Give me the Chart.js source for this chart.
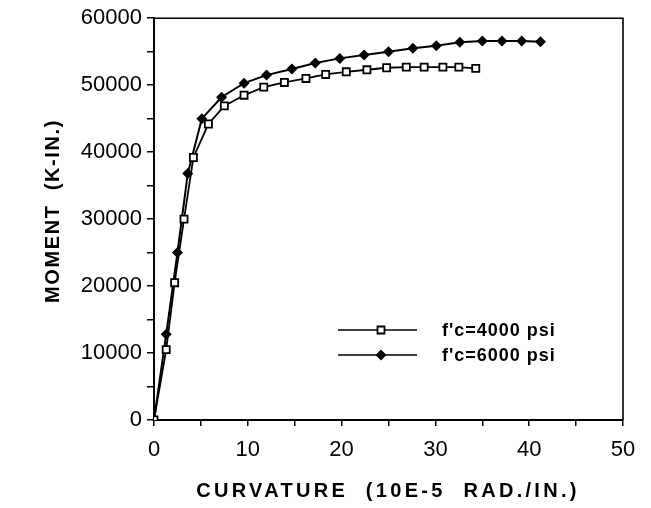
<!DOCTYPE html>
<html>
<head>
<meta charset="utf-8">
<script src="https://cdn.jsdelivr.net/npm/chart.js@4/dist/chart.umd.min.js"></script>
<style>
  html, body { margin: 0; padding: 0; background: #fff; }
  #wrap { width: 651px; height: 508px; }
</style>
</head>
<body>
<div id="wrap"><canvas id="momentChart" width="651" height="508"></canvas></div>
<script>
// curvature in 10E-5 rad/in, moment in k-in
const curv4000 = [0, 1.3, 2.2, 3.2, 4.2, 5.8, 7.5, 9.6, 11.7, 13.9, 16.2, 18.3, 20.5, 22.7, 24.8, 26.9, 28.8, 30.8, 32.5, 34.3];
const moment4000 = [0, 10500, 20500, 30000, 39200, 44200, 46900, 48500, 49700, 50400, 51000, 51600, 52000, 52300, 52600, 52700, 52700, 52700, 52700, 52500];

const curv6000 = [0, 1.3, 2.5, 3.6, 5.1, 7.2, 9.6, 12.0, 14.7, 17.2, 19.8, 22.4, 25.0, 27.6, 30.1, 32.6, 35.0, 37.1, 39.2, 41.2];
const moment6000 = [0, 12800, 25000, 36800, 45000, 48200, 50300, 51500, 52400, 53300, 54000, 54500, 55000, 55500, 55900, 56400, 56600, 56600, 56600, 56500];

const seriesLabels = ["f'c=4000 psi", "f'c=6000 psi"];
const xTitle = 'CURVATURE  (10E-5  RAD./IN.)';
const yTitle = 'MOMENT  (K-IN.)';

const toPoints = (xs, ys) => xs.map((x, i) => ({ x: x, y: ys[i] }));

const tickFont = { family: "'Liberation Sans', Arial, sans-serif", size: 22 };

// frame, axis titles and the line+marker legend
const extras = {
  id: 'extras',
  afterDraw(chart) {
    const c = chart.ctx;
    const a = chart.chartArea;
    c.save();
    c.strokeStyle = '#000';
    c.lineWidth = 1.6;
    c.beginPath();
    c.moveTo(a.left, a.top);
    c.lineTo(a.right, a.top);
    c.lineTo(a.right, a.bottom);
    c.stroke();

    c.fillStyle = '#000';
    c.font = "bold 20px 'Liberation Sans', Arial, sans-serif";
    c.letterSpacing = '3.3px';
    c.textAlign = 'center';
    c.textBaseline = 'middle';
    c.fillText(xTitle, 388, 491);
    c.translate(53, 211);
    c.rotate(-Math.PI / 2);
    c.letterSpacing = '1.6px';
    c.fillText(yTitle, 0, 0);
    c.restore();

    // legend
    c.save();
    const rows = [330, 355];
    rows.forEach((ly, i) => {
      c.strokeStyle = '#000';
      c.lineWidth = 1.6;
      c.beginPath();
      c.moveTo(338, ly);
      c.lineTo(417, ly);
      c.stroke();
      c.beginPath();
      if (i === 0) {
        c.fillStyle = '#fff';
        c.rect(377.5, ly - 3.5, 7, 7);
        c.fill();
        c.lineWidth = 1.8;
        c.stroke();
      } else {
        c.fillStyle = '#000';
        c.moveTo(381, ly - 5.5);
        c.lineTo(386.5, ly);
        c.lineTo(381, ly + 5.5);
        c.lineTo(375.5, ly);
        c.closePath();
        c.fill();
      }
      c.fillStyle = '#000';
      c.font = "bold 18px 'Liberation Sans', Arial, sans-serif";
      c.letterSpacing = '1px';
      c.textAlign = 'left';
      c.textBaseline = 'middle';
      c.fillText(seriesLabels[i], 442, ly + 1);
    });
    c.restore();
  }
};

new Chart(document.getElementById('momentChart'), {
  type: 'line',
  data: {
    datasets: [{
      label: seriesLabels[0],
      data: toPoints(curv4000, moment4000),
      borderColor: '#000',
      borderWidth: 1.8,
      pointStyle: 'rect',
      pointRadius: 5,
      pointBorderWidth: 1.8,
      pointBackgroundColor: '#fff',
      pointBorderColor: '#000',
      tension: 0
    }, {
      label: seriesLabels[1],
      data: toPoints(curv6000, moment6000),
      borderColor: '#000',
      borderWidth: 2,
      pointStyle: 'rectRot',
      pointRadius: 5.5,
      pointBorderWidth: 0,
      pointBackgroundColor: '#000',
      pointBorderColor: '#000',
      tension: 0
    }]
  },
  options: {
    responsive: false,
    animation: false,
    layout: { padding: { top: 15, right: 28, left: 0, bottom: 0 } },
    plugins: {
      legend: { display: false },
      tooltip: { enabled: false }
    },
    scales: {
      x: {
        type: 'linear',
        min: 0,
        max: 50,
        afterFit: s => { s.height = 88; },
        border: { display: true, color: '#000', width: 2 },
        grid: { drawOnChartArea: false, drawTicks: true, tickLength: 6, color: '#000', lineWidth: 1.5 },
        ticks: {
          stepSize: 5,
          padding: 11,
          color: '#000',
          font: tickFont,
          maxRotation: 0,
          autoSkip: false,
          callback: v => (v % 10 === 0 ? String(v) : '')
        }
      },
      y: {
        type: 'linear',
        min: 0,
        max: 60000,
        afterFit: s => { s.width = 154; },
        border: { display: true, color: '#000', width: 2 },
        grid: { drawOnChartArea: false, drawTicks: true, tickLength: 7, color: '#000', lineWidth: 1.5 },
        ticks: {
          stepSize: 5000,
          padding: 5,
          color: '#000',
          font: tickFont,
          autoSkip: false,
          callback: v => (v % 10000 === 0 ? String(v) : '')
        }
      }
    }
  },
  plugins: [extras]
});
</script>
</body>
</html>
